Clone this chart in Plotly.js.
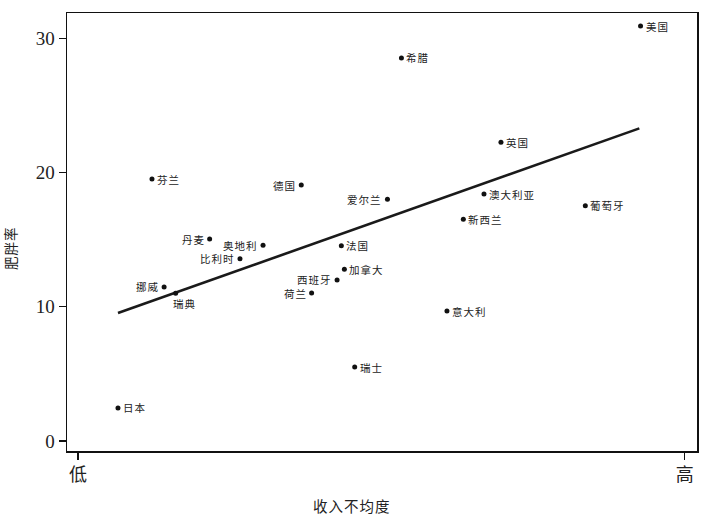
<!DOCTYPE html>
<html>
<head>
<meta charset="utf-8">
<script src="https://cdn.plot.ly/plotly-3.0.1.min.js"></script>
<style>
  html, body { margin: 0; padding: 0; background: #fff; }
  #chart { width: 704px; height: 519px; }
  .annotation-text { letter-spacing: 1px; }
</style>
</head>
<body>
<div id="chart"></div>
<script>
// Income inequality (0 = low, 10 = high) vs. obesity rate (%)
const countries = ['日本', '挪威', '瑞典', '芬兰', '丹麦', '奥地利', '比利时', '德国', '爱尔兰',
  '法国', '加拿大', '西班牙', '荷兰', '瑞士', '希腊', '英国', '澳大利亚', '新西兰', '葡萄牙', '意大利', '美国'];
const inequality = [0.66, 1.42, 1.61, 1.22, 2.17, 3.05, 2.67, 3.68, 5.10,
  4.34, 4.39, 4.27, 3.85, 4.56, 5.33, 6.97, 6.69, 6.35, 8.36, 6.08, 9.27];
const obesity = [2.46, 11.47, 11.0, 19.5, 15.04, 14.57, 13.57, 19.06, 18.0,
  14.53, 12.78, 11.99, 11.02, 5.51, 28.52, 22.24, 18.39, 16.51, 17.52, 9.68, 30.9];

// Fitted trend line endpoints
const fitX = [0.66, 9.25];
const fitY = [9.53, 23.28];

// Axis tick labels
const xTickVals = [0, 10];
const xTickText = ['低', '高'];
const yTickVals = [0, 10, 20, 30];

const leftLabelled = new Set(['挪威', '丹麦', '奥地利', '比利时', '德国', '爱尔兰', '西班牙', '荷兰']);

const cjk = '"Noto Sans CJK SC", "Noto Sans CJK JP", sans-serif';
const serif = '"Liberation Serif", "DejaVu Serif", serif';

const annotations = countries.map((name, i) => {
  const a = {
    x: inequality[i], y: obesity[i], xref: 'x', yref: 'y',
    text: name, showarrow: false,
    font: { family: cjk, size: 10.5, color: '#222' },
    yanchor: 'middle'
  };
  if (name === '瑞典') {
    a.xanchor = 'left'; a.xshift = -5; a.yshift = -10;
  } else if (leftLabelled.has(name)) {
    a.xanchor = 'right'; a.xshift = -3;
  } else {
    a.xanchor = 'left'; a.xshift = 3;
  }
  return a;
});

annotations.push({
  x: 352, y: 506, xref: 'paper', yref: 'paper', text: '收入不均度', showarrow: false,
  font: { family: cjk, size: 14.5, color: '#222' }, xanchor: 'center', yanchor: 'middle'
});
annotations.push({
  x: 10, y: 248, text: '肥胖率', showarrow: false, textangle: -90,
  font: { family: cjk, size: 13.5, color: '#222' }, xanchor: 'center', yanchor: 'middle'
});

// convert the two title annotations from pixel positions to paper coordinates
const W = 704, H = 519, M = { l: 67, r: 7, t: 13, b: 68 };
const pw = W - M.l - M.r, ph = H - M.t - M.b;
for (const a of annotations.slice(-2)) {
  a.xref = 'paper'; a.yref = 'paper';
  a.x = (a.x - M.l) / pw;
  a.y = (H - M.b - a.y) / ph;
}

const traces = [
  {
    x: fitX, y: fitY, mode: 'lines', type: 'scatter',
    line: { color: '#1a1a1a', width: 2.6 }, hoverinfo: 'skip'
  },
  {
    x: inequality, y: obesity, mode: 'markers', type: 'scatter',
    marker: { color: '#111', size: 5 }, text: countries
  }
];

const layout = {
  width: W, height: H,
  margin: M,
  paper_bgcolor: '#fff', plot_bgcolor: '#fff',
  showlegend: false,
  xaxis: {
    range: [-0.18, 10.2], tickvals: xTickVals, ticktext: xTickText,
    ticks: 'outside', ticklen: 7, tickwidth: 1.2, tickcolor: '#111',
    showline: true, mirror: true, linecolor: '#111', linewidth: 1.5,
    showgrid: false, zeroline: false,
    tickfont: { family: cjk, size: 18, color: '#222' }
  },
  yaxis: {
    range: [-0.745, 31.87], tickvals: yTickVals,
    ticks: 'outside', ticklen: 7, tickwidth: 1.2, tickcolor: '#111',
    showline: true, mirror: true, linecolor: '#111', linewidth: 1.5,
    showgrid: false, zeroline: false,
    tickfont: { family: serif, size: 19, color: '#222' }
  },
  annotations: annotations
};

Plotly.newPlot('chart', traces, layout, { staticPlot: true, displayModeBar: false });
</script>
</body>
</html>
